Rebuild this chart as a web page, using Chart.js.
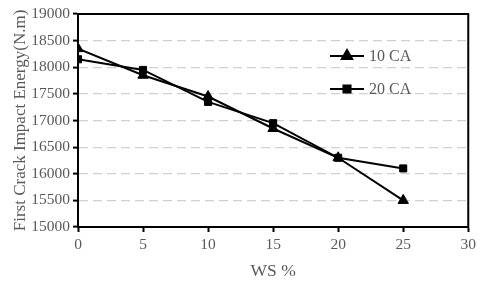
<!DOCTYPE html>
<html>
<head>
<meta charset="utf-8">
<script src="https://cdn.jsdelivr.net/npm/chart.js@4"></script>
<style>
  html, body { margin: 0; padding: 0; background: #fff; }
  #wrap { width: 480px; height: 285px; }
</style>
</head>
<body>
<div id="wrap"><canvas id="impact-chart"></canvas></div>
<script>
const wsPercent = [0, 5, 10, 15, 20, 25];
const ca10 = [18350, 17850, 17450, 16850, 16300, 15500];
const ca20 = [18150, 17950, 17350, 16950, 16300, 16100];
const seriesNames = ['10 CA', '20 CA'];
const yTitle = 'First Crack Impact Energy(N.m)';
const xTitle = 'WS %';

const SERIF = '"Liberation Serif", "DejaVu Serif", serif';
const GREY = '#595959';

const toPoints = (vals) => vals.map((v, i) => ({ x: wsPercent[i], y: v }));

// frame round the plot + the legend placed inside the plot
const framePlugin = {
  id: 'frame',
  afterDraw(chart) {
    const { ctx, chartArea: a } = chart;
    ctx.save();
    ctx.strokeStyle = '#000';
    ctx.lineWidth = 2;
    ctx.strokeRect(a.left, a.top, a.right - a.left, a.bottom - a.top);

    const rows = [
      { name: seriesNames[0], style: 'triangle', y: 56, r: 6 },
      { name: seriesNames[1], style: 'rect', y: 89, r: 5 }
    ];
    rows.forEach((row) => {
      ctx.strokeStyle = '#000';
      ctx.lineWidth = 2;
      ctx.beginPath();
      ctx.moveTo(330, row.y);
      ctx.lineTo(364, row.y);
      ctx.stroke();
      ctx.fillStyle = '#000';
      Chart.helpers.drawPoint(ctx, { pointStyle: row.style, radius: row.r, borderWidth: 1 }, 347, row.y);
      ctx.fillStyle = GREY;
      ctx.font = '16px ' + SERIF;
      ctx.textBaseline = 'middle';
      ctx.fillText(row.name, 369, row.y + 1);
    });
    ctx.restore();
  }
};

new Chart(document.getElementById('impact-chart'), {
  type: 'line',
  data: {
    datasets: [
      {
        label: seriesNames[0],
        data: toPoints(ca10),
        borderColor: '#000',
        backgroundColor: '#000',
        borderWidth: 2,
        pointStyle: 'triangle',
        pointRadius: 6,
        pointBorderWidth: 1,
        tension: 0
      },
      {
        label: seriesNames[1],
        data: toPoints(ca20),
        borderColor: '#000',
        backgroundColor: '#000',
        borderWidth: 2,
        pointStyle: 'rect',
        pointRadius: 5,
        pointBorderWidth: 1,
        tension: 0
      }
    ]
  },
  options: {
    responsive: true,
    maintainAspectRatio: false,
    animation: false,
    layout: { padding: { top: 14, right: 11, left: 0, bottom: 0 } },
    plugins: {
      legend: { display: false },
      tooltip: { enabled: false }
    },
    scales: {
      x: {
        type: 'linear',
        min: 0,
        max: 30,
        afterFit(scale) { scale.height = 58; },
        ticks: { stepSize: 5, color: GREY, padding: 4, font: { family: SERIF, size: 15.5 } },
        grid: {
          drawOnChartArea: false,
          drawTicks: true,
          tickLength: 5,
          tickColor: '#000',
          tickWidth: 2
        },
        border: { color: '#000', width: 2 },
        title: {
          display: true,
          text: xTitle,
          color: GREY,
          font: { family: SERIF, size: 17.5 },
          padding: { top: 0, bottom: 3 }
        }
      },
      y: {
        min: 15000,
        max: 19000,
        afterFit(scale) { scale.width = 78; },
        ticks: {
          stepSize: 500,
          color: GREY,
          padding: 3,
          font: { family: SERIF, size: 15.5 },
          callback: (value) => String(value)
        },
        grid: {
          color: '#d0d0d0',
          lineWidth: 1.2,
          drawTicks: true,
          tickLength: 5,
          tickColor: '#000',
          tickWidth: 2,
          tickBorderDash: []
        },
        border: { color: '#000', width: 2, dash: [9, 5] },
        title: {
          display: true,
          text: yTitle,
          color: GREY,
          font: { family: SERIF, size: 17 },
          padding: { top: 10, bottom: 0 }
        }
      }
    }
  },
  plugins: [framePlugin]
});
</script>
</body>
</html>
